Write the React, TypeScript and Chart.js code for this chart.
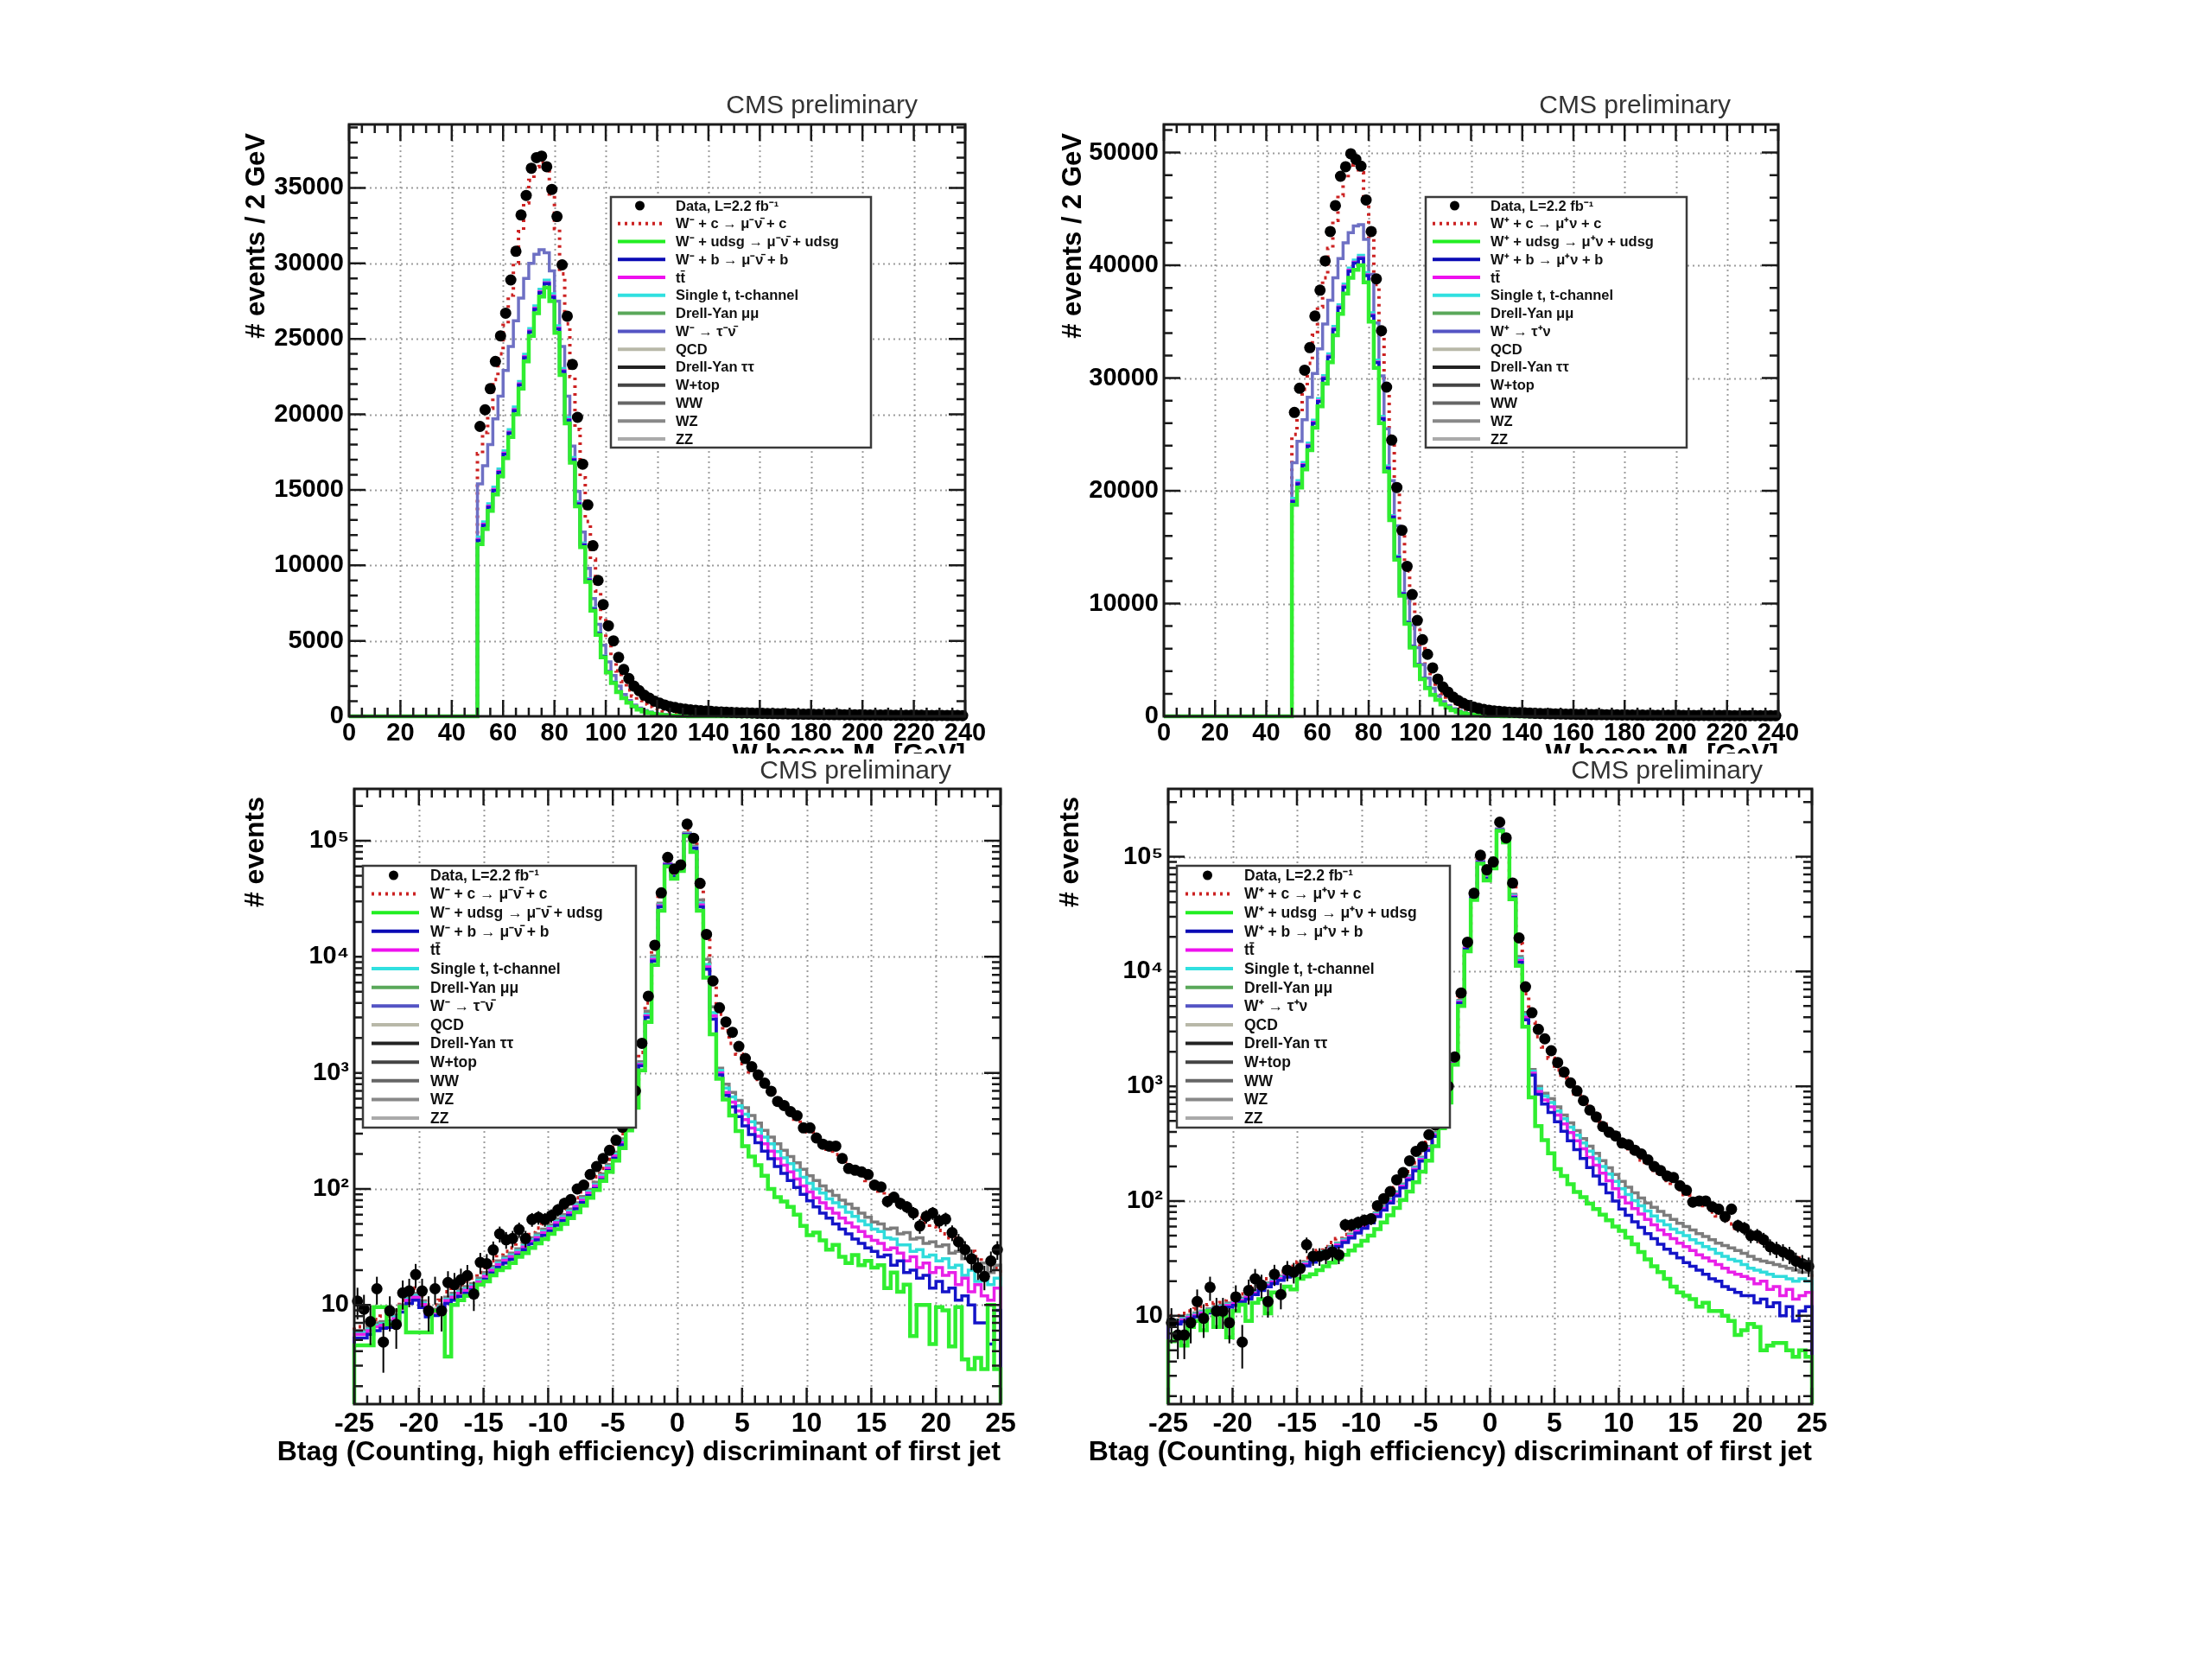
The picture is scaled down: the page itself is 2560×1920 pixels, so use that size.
import React, { useEffect, useRef } from "react";
import { Chart, registerables } from "chart.js";
Chart.register(...registerables);

const FONT = '"Liberation Sans", Arial, Helvetica, sans-serif';

// ---------------- W boson M_T panels (2 GeV bins, first filled bin starts at 50 GeV) ----------------
const MT_X_RANGE = [0, 240];
const MT_FIRST_EDGE = 50;
const MT_BIN_WIDTH = 2;
const MT_X_TICKS = [0, 20, 40, 60, 80, 100, 120, 140, 160, 180, 200, 220, 240];
const TL_Y_TICKS = [0, 5000, 10000, 15000, 20000, 25000, 30000, 35000];
const TR_Y_TICKS = [0, 10000, 20000, 30000, 40000, 50000];

const TL_DATA = [
  19200, 20300, 21700, 23500, 25200, 26700, 28900, 30800, 33200, 34500,
  36300, 37000, 37100, 36400, 34900, 33100, 29900, 26500, 23300, 19800,
  16700, 14000, 11300, 9000, 7400, 6000, 5000, 3900, 3100, 2500,
  2000, 1700, 1400, 1200, 1000, 870, 750, 650, 580, 520,
  470, 430, 400, 370, 345, 325, 305, 290, 275, 260,
  248, 236, 228, 215, 205, 198, 188, 180, 175, 166,
  160, 152, 148, 141, 137, 130, 127, 121, 118, 112,
  110, 105, 102, 98, 95, 92, 88, 86, 83, 80,
  78, 75, 73, 71, 68, 66, 65, 62, 60, 59,
  57, 55, 53, 52, 50,
];
const TL_RED = [17400, 18800, 20400, 22300, 24000, 25900, 27900, 30000, 32100, 34000, 35500, 36400, 36700, 36300, 34600, 32300, 29300, 26000, 22500, 19000, 15800, 12900, 10400, 8300, 6500, 5100, 3900, 3000, 2300, 1750, 1350, 1050, 820, 640, 500, 400, 320, 260, 210, 175, 145];
const TL_GRAY = [15400, 16600, 18000, 19700, 21200, 22900, 24500, 26200, 27700, 29000, 30000, 30600, 30900, 30700, 29500, 27500, 24500, 21200, 17900, 14900, 12200, 9800, 7800, 6100, 4700, 3600, 2700, 2000, 1450, 1050, 750, 540, 390, 280, 200, 145, 105, 75, 55, 40, 30];
const TL_CYAN = [11880, 12880, 14080, 15180, 16380, 17580, 18980, 20480, 22180, 23980, 25680, 27180, 28280, 28880, 27980, 25860, 23030, 19780, 17140, 14200, 11470, 9120, 7180, 5550, 4010, 2990, 2270, 1650, 1240, 928, 660, 465, 331, 233, 166, 114, 81, 56, 40, 28, 20];
const TL_MAGENTA = [11720, 12720, 13920, 15020, 16220, 17420, 18820, 20320, 22020, 23820, 25520, 27020, 28120, 28720, 27820, 25710, 22890, 19650, 17020, 14100, 11380, 9050, 7120, 5500, 3975, 2960, 2250, 1635, 1225, 918, 652, 460, 327, 230, 164, 113, 80, 56, 39, 28, 19];
const TL_BLUE = [11650, 12650, 13850, 14950, 16150, 17350, 18750, 20250, 21950, 23750, 25450, 26950, 28050, 28650, 27750, 25650, 22830, 19600, 16980, 14060, 11340, 9020, 7100, 5480, 3960, 2950, 2240, 1630, 1220, 915, 650, 458, 326, 229, 163, 112, 79, 55, 39, 27, 19];
const TL_GREEN = [11400, 12400, 13600, 14700, 15900, 17100, 18500, 20000, 21700, 23500, 25200, 26700, 27800, 28400, 27500, 25400, 22600, 19400, 16800, 13900, 11200, 8900, 7000, 5400, 3900, 2900, 2200, 1600, 1200, 900, 640, 450, 320, 225, 160, 110, 78, 54, 38, 27, 19];

const TR_DATA = [
  26950, 29100, 30700, 32700, 35500, 37800, 40400, 43000, 45300, 47900,
  48750, 49900, 49400, 48800, 45800, 43000, 38800, 34200, 29200, 24500,
  20300, 16500, 13300, 10800, 8500, 6800, 5500, 4300, 3300, 2600,
  2150, 1700, 1400, 1150, 950, 820, 700, 610, 540, 480,
  440, 400, 370, 345, 320, 300, 282, 265, 250, 237,
  225, 214, 204, 195, 186, 178, 170, 163, 157, 150,
  145, 139, 134, 129, 124, 120, 116, 112, 108, 104,
  101, 98, 95, 92, 89, 87, 84, 82, 80, 78,
  76, 74, 72, 70, 68, 66, 64, 63, 61, 60,
  58, 57, 55, 54, 52,
];
const TR_RED = [25000, 27000, 29000, 31300, 33800, 36300, 38900, 41500, 44000, 46200, 47800, 48900, 49100, 48200, 46000, 42500, 38300, 33800, 29000, 24300, 20000, 16200, 12900, 10100, 7800, 6000, 4600, 3500, 2650, 2000, 1500, 1130, 850, 640, 480, 360, 270, 205, 155, 120, 92];
const TR_GRAY = [22500, 24400, 26300, 28300, 30400, 32600, 34800, 36900, 38900, 40600, 42000, 42900, 43500, 43600, 42300, 39200, 34900, 30200, 25500, 20900, 16900, 13400, 10500, 8100, 6100, 4600, 3400, 2500, 1800, 1300, 940, 680, 490, 350, 250, 180, 130, 92, 66, 47, 34];
const TR_CYAN = [19330, 20900, 22520, 24240, 26270, 28190, 30220, 32150, 34580, 36510, 38340, 39760, 40470, 40880, 39360, 35790, 31600, 26600, 22200, 17800, 14210, 10940, 8390, 6240, 4610, 3380, 2560, 1945, 1480, 1073, 776, 553, 389, 276, 195, 134, 92, 64, 44, 31, 22];
const TR_MAGENTA = [19130, 20700, 22320, 24040, 26070, 27990, 30020, 31950, 34380, 36310, 38140, 39560, 40270, 40680, 39160, 35600, 31430, 26450, 22070, 17700, 14130, 10880, 8340, 6200, 4580, 3360, 2545, 1935, 1473, 1068, 772, 550, 387, 275, 194, 133, 92, 63, 43, 30, 21];
const TR_BLUE = [19050, 20620, 22240, 23960, 25990, 27910, 29940, 31870, 34300, 36230, 38060, 39480, 40190, 40600, 39080, 35520, 31360, 26390, 22020, 17660, 14100, 10860, 8320, 6190, 4570, 3350, 2540, 1930, 1470, 1065, 770, 548, 386, 274, 193, 132, 91, 63, 43, 30, 21];
const TR_GREEN = [18750, 20300, 21900, 23600, 25600, 27500, 29500, 31400, 33800, 35700, 37500, 38900, 39600, 40000, 38500, 35000, 30900, 26000, 21700, 17400, 13900, 10700, 8200, 6100, 4500, 3300, 2500, 1900, 1450, 1050, 760, 540, 380, 270, 190, 130, 90, 62, 42, 30, 21];

// ---------------- Btag discriminant panels (0.5 bins from -25 to 25, log y) ----------------
const BTAG_X_RANGE = [-25, 25];
const BTAG_FIRST_EDGE = -25;
const BTAG_BIN_WIDTH = 0.5;
const BTAG_X_TICKS = [-25, -20, -15, -10, -5, 0, 5, 10, 15, 20, 25];
const BTAG_Y_TICKS = [10, 100, 1000, 10000, 100000];

const BL_DATA = [
  10.8, 9.2, 7.2, 13.8, 4.8, 8.9, 6.8, 12.7, 13.2, 18.3,
  13.2, 8.9, 13.8, 8.9, 15.6, 15, 16.5, 17.9, 12.4, 23.3,
  22.7, 29.8, 41, 36.5, 37.4, 44.6, 37.4, 54.6, 56.8, 54.6,
  59, 66, 75, 81, 100, 108, 133, 156, 183, 215,
  263, 340, 450, 700, 1800, 4580, 12600, 35600, 72000, 57000,
  62000, 139000, 105000, 43000, 15600, 6200, 3640, 2750, 2240, 1690,
  1330, 1130, 960, 816, 695, 568, 524, 464, 428, 336,
  336, 275, 243, 234, 234, 183, 150, 145, 140, 133,
  108, 104, 78, 85, 75, 70, 62, 48, 58, 62,
  53, 55, 42, 35, 30, 25, 21, 17.6, 24, 30,
];
const BL_RED = [
  6.5, 6.5, 7, 7.5, 8, 8, 9, 11, 13, 14,
  12, 10, 10, 11, 13, 14, 15, 16, 17, 19,
  21, 24, 27, 29, 31, 34, 38, 42, 46, 50,
  55, 61, 67, 74, 84, 96, 110, 127, 150, 180,
  230, 300, 420, 650, 1500, 4000, 11500, 33000, 68000, 56000,
  62000, 125000, 100000, 40000, 14500, 5800, 3200, 2300, 1800, 1450,
  1200, 1020, 880, 760, 660, 580, 510, 450, 400, 355,
  310, 275, 245, 220, 198, 178, 160, 145, 130, 118,
  105, 96, 88, 80, 73, 67, 61, 56, 51, 47,
  44, 41, 38, 35, 32, 29, 26, 24, 22, 21,
];
const BL_GRAY = [
  6, 6, 6.5, 7, 7.2, 7.3, 8.2, 10, 11.8, 12.6,
  10.8, 9, 9.2, 10, 11.7, 12.6, 13.5, 14.4, 15.3, 17,
  19, 21.5, 24, 26, 28, 30.5, 34, 38, 41, 45,
  49, 55, 60, 67, 76, 86, 99, 114, 135, 162,
  207, 270, 378, 585, 1250, 3400, 10200, 29000, 64000, 51000,
  58000, 117000, 90000, 31000, 9500, 3700, 1100, 800, 680, 580,
  500, 430, 370, 320, 280, 245, 215, 190, 168, 148,
  130, 118, 106, 96, 88, 80, 74, 68, 62, 57,
  52, 50, 45, 46, 41, 42, 37, 38, 34, 35,
  32, 33, 28, 29, 25, 26, 22, 23, 19, 22,
];
const BL_CYAN = [
  5.8, 5.8, 6.2, 6.7, 6.9, 7, 7.9, 9.6, 11.3, 12.1,
  10.4, 8.7, 8.9, 9.6, 11.2, 12.1, 13, 13.8, 14.7, 16.3,
  18.2, 20.6, 23, 25, 26.9, 29.3, 32.6, 36.5, 39.4, 43.2,
  47, 52.8, 57.6, 64.3, 73, 82.6, 95, 109, 130, 156,
  199, 259, 363, 562, 1200, 3200, 9800, 28000, 63500, 50000,
  57500, 115000, 88000, 29000, 8600, 3300, 1050, 740, 620, 520,
  440, 380, 325, 280, 245, 210, 185, 165, 145, 126,
  112, 100, 92, 82, 76, 70, 63, 58, 53, 49,
  45, 43, 38, 37, 33, 33, 29, 30, 26, 27,
  24, 25, 21, 22, 18, 20, 16, 18, 15, 17,
];
const BL_MAGENTA = [
  5.6, 5.6, 6, 6.5, 6.7, 6.8, 7.6, 9.3, 11, 11.7,
  10.1, 8.4, 8.6, 9.3, 10.9, 11.7, 12.6, 13.4, 14.3, 15.8,
  17.7, 20, 22.3, 24.3, 26.1, 28.4, 31.6, 35.4, 38.2, 41.9,
  45.6, 51.2, 55.9, 62.4, 70.8, 80.1, 92, 106, 126, 151,
  193, 251, 352, 545, 1180, 3100, 9500, 27500, 63000, 49500,
  57000, 114000, 87000, 28000, 8200, 3100, 1000, 680, 560, 470,
  395, 335, 285, 245, 212, 182, 160, 140, 122, 106,
  94, 84, 76, 68, 62, 56, 51, 47, 43, 39,
  36, 34, 30, 31, 28, 24, 26, 21, 23, 19,
  21, 18, 19, 15, 17, 13, 15, 12, 11, 14,
];
const BL_BLUE = [
  5.2, 5.2, 5.6, 6, 6.3, 6.4, 7.1, 8.7, 10.3, 11,
  9.5, 7.9, 8.1, 8.8, 10.3, 11, 11.9, 12.6, 13.5, 14.9,
  16.7, 18.9, 21.1, 23, 24.7, 26.9, 30, 33.6, 36.3, 39.8,
  43.4, 48.7, 53.2, 59.4, 67.5, 76.3, 87.7, 101, 120, 144,
  184, 240, 337, 522, 1150, 3000, 9200, 27000, 62000, 49000,
  56500, 113000, 86000, 27000, 7800, 2900, 960, 640, 510, 420,
  350, 295, 250, 212, 182, 156, 136, 118, 103, 90,
  79, 70, 62, 56, 50, 45, 41, 37, 34, 31,
  29, 26, 27, 22, 24, 19, 20, 17, 18, 14,
  16, 13, 14, 11, 12, 10, 7, 7, 4.6, 9,
];
const BL_GREEN = [
  4.5, 4.5, 4.5, 9.6, 9.6, 6.8, 6.8, 9.6, 5.8, 5.8,
  5.8, 5.8, 8.9, 8.9, 3.6, 10, 11, 12, 13, 15,
  16, 18, 20, 21, 23, 26, 28, 31, 34, 37,
  41, 45, 50, 56, 63, 72, 84, 98, 117, 140,
  175, 225, 320, 500, 1050, 2750, 8500, 25000, 60000, 47000,
  55000, 110000, 80000, 25000, 6600, 2150, 890, 590, 430, 316,
  234, 190, 160, 130, 100, 85, 78, 70, 60, 48,
  40, 42, 36, 30, 33, 26, 23, 27, 22, 24,
  21, 22, 14, 19, 13, 15, 5.4, 10, 10, 4.6,
  9.6, 9, 4.4, 9.6, 3.4, 2.8, 3.5, 2.8, 10, 2.8,
];

const BR_DATA = [
  8.7, 6.8, 6.8, 8.7, 13.3, 9.5, 17.7, 11, 11, 8.7,
  14.6, 5.9, 16.6, 21, 18.5, 13.3, 23, 15.3, 25, 24,
  25.8, 41.6, 33, 33, 34, 36, 34, 62, 62, 65,
  68, 70, 91, 105, 121, 153, 177, 224, 271, 298,
  378, 460, 650, 1000, 1800, 6500, 18000, 48000, 103000, 77000,
  90000, 200000, 146000, 59000, 19600, 7350, 4370, 3130, 2590, 2040,
  1610, 1330, 1070, 910, 750, 620, 540, 446, 398, 369,
  320, 310, 277, 257, 229, 200, 184, 165, 160, 136,
  124, 98, 100, 100, 89, 85, 73, 85, 61, 58,
  50, 50, 46, 40, 38, 36, 34, 30, 28.5, 27,
];
const BR_RED = [
  10, 10, 10.5, 11, 11.5, 12, 12.5, 13, 13.5, 14,
  14.5, 15.5, 16.5, 18, 19.5, 21, 22.5, 24, 25.5, 27,
  29.5, 32, 34.5, 37, 40, 43.5, 47, 51, 56, 62,
  68, 76, 86, 98, 113, 131, 153, 180, 215, 262,
  325, 430, 610, 1000, 1700, 6000, 17500, 47000, 97000, 72000,
  86000, 185000, 142000, 55000, 17500, 6400, 3600, 2700, 2200, 1750,
  1390, 1180, 1000, 860, 740, 640, 560, 490, 425, 370,
  320, 285, 255, 228, 205, 185, 167, 151, 137, 125,
  114, 104, 95, 87, 80, 74, 68, 63, 58, 54,
  50, 47, 44, 41, 38, 36, 34, 32, 30, 28,
];
const BR_GRAY = [
  9.2, 9.2, 9.7, 10.1, 10.6, 11, 11.5, 12, 12.4, 12.9,
  13.3, 14.3, 15.2, 16.6, 17.9, 19.3, 20.7, 22.1, 23.5, 24.8,
  27.1, 29.4, 31.7, 34, 36.8, 40, 43.2, 46.9, 51.5, 57,
  62.6, 69.9, 79.1, 90.2, 104, 120, 141, 166, 198, 241,
  299, 396, 561, 920, 1620, 5600, 16500, 45000, 92000, 67000,
  82000, 175000, 138000, 47000, 13500, 4400, 1400, 1000, 870, 780,
  660, 560, 480, 410, 350, 300, 260, 225, 195, 170,
  148, 132, 118, 106, 96, 88, 81, 75, 69, 64,
  60, 56, 52, 49, 46, 43, 41, 39, 37, 35,
  33, 31, 30, 29, 28, 27, 26, 25, 24, 24,
];
const BR_CYAN = [
  9, 9, 9.4, 9.9, 10.3, 10.8, 11.2, 11.7, 12.1, 12.6,
  13, 13.9, 14.8, 16.2, 17.5, 18.9, 20.2, 21.6, 22.9, 24.3,
  26.5, 28.8, 31, 33.3, 36, 39.1, 42.3, 45.9, 50.4, 55.8,
  61.2, 68.4, 77.4, 88.2, 102, 118, 138, 162, 194, 236,
  293, 387, 549, 900, 1600, 5500, 16200, 44500, 91000, 66000,
  81000, 173000, 137000, 46000, 13000, 4200, 1350, 950, 820, 720,
  610, 520, 440, 375, 320, 272, 234, 200, 172, 148,
  128, 114, 101, 91, 82, 74, 67, 62, 57, 53,
  50, 46, 43, 40, 38, 35, 33, 31, 30, 28,
  26, 25, 24, 23, 22, 22, 21, 20, 21, 20,
];
const BR_MAGENTA = [
  8.8, 8.8, 9.2, 9.7, 10.1, 10.6, 11, 11.4, 11.9, 12.3,
  12.8, 13.6, 14.5, 15.8, 17.2, 18.5, 19.8, 21.1, 22.4, 23.8,
  26, 28.2, 30.4, 32.6, 35.2, 38.3, 41.4, 44.9, 49.3, 54.6,
  59.8, 66.9, 75.7, 86.2, 99.4, 115, 135, 158, 189, 231,
  286, 378, 537, 880, 1580, 5400, 16000, 44000, 90000, 65500,
  80500, 172000, 136000, 45000, 12500, 4000, 1300, 900, 760, 660,
  560, 470, 395, 335, 285, 240, 205, 175, 150, 128,
  108, 96, 86, 77, 69, 62, 56, 51, 47, 43,
  40, 37, 34, 32, 30, 28, 26, 24, 23, 22,
  21, 19, 20, 17, 18, 15, 17, 14, 15, 16,
];
const BR_BLUE = [
  8.5, 8.5, 8.9, 9.4, 9.8, 10.2, 10.6, 11.1, 11.5, 11.9,
  12.3, 13.2, 14, 15.3, 16.6, 17.9, 19.1, 20.4, 21.7, 23,
  25.1, 27.2, 29.3, 31.5, 34, 37, 40, 43.4, 47.6, 52.7,
  57.8, 64.6, 73.1, 83.3, 96, 111, 130, 153, 183, 223,
  276, 366, 519, 850, 1560, 5300, 15600, 43500, 89000, 64500,
  80000, 171000, 135000, 44000, 12000, 3800, 1250, 850, 700, 590,
  490, 405, 335, 280, 235, 196, 165, 140, 118, 100,
  85, 75, 66, 59, 52, 47, 42, 38, 35, 32,
  29, 27, 25, 23, 21, 20, 18, 17, 16, 15,
  15, 13, 14, 12, 13, 10, 12, 9, 11, 12,
];
const BR_GREEN = [
  6, 7, 5.5, 8, 9, 7.5, 11, 8, 10, 6.5,
  11, 12.5, 9, 13, 14, 10.5, 16, 15, 18, 17,
  21, 22, 23, 25, 27, 29, 31, 34, 37, 41,
  45, 50, 57, 65, 75, 87, 102, 121, 146, 180,
  225, 300, 430, 720, 1540, 5000, 15000, 42000, 87000, 62000,
  79000, 168000, 133000, 42500, 11200, 3300, 800, 450, 340, 260,
  190, 165, 140, 120, 108, 95, 85, 76, 68, 60,
  55, 48, 42, 36, 31, 27, 24, 21, 18, 16,
  15, 14, 12, 13, 11, 11, 10, 9, 6.8, 7.5,
  8.5, 8, 5, 5.5, 5.8, 5.8, 5, 4.4, 5, 4.4,
];

// ---------------- legend ----------------
const LEGEND_MINUS = [
  "Data, L=2.2 fb⁻¹",
  "W⁻ + c → μ⁻ν̄ + c",
  "W⁻ + udsg → μ⁻ν̄ + udsg",
  "W⁻ + b → μ⁻ν̄ + b",
  "tt̄",
  "Single t, t-channel",
  "Drell-Yan μμ",
  "W⁻ → τ⁻ν̄",
  "QCD",
  "Drell-Yan ττ",
  "W+top",
  "WW",
  "WZ",
  "ZZ",
];
const LEGEND_PLUS = [
  "Data, L=2.2 fb⁻¹",
  "W⁺ + c → μ⁺ν + c",
  "W⁺ + udsg → μ⁺ν + udsg",
  "W⁺ + b → μ⁺ν + b",
  "tt̄",
  "Single t, t-channel",
  "Drell-Yan μμ",
  "W⁺ → τ⁺ν",
  "QCD",
  "Drell-Yan ττ",
  "W+top",
  "WW",
  "WZ",
  "ZZ",
];
const LEGEND_COLORS = ["#000000", "#cc2222", "#22ee22", "#0a0ab4", "#ee10ee", "#30e0e0", "#5aa85a", "#5454c4", "#b8b8a8", "#222222", "#444444", "#666666", "#888888", "#aaaaaa"];

// stacked histogram outlines, drawn bottom to top: red(total), upper group, cyan, magenta, blue, green
const TOP_LINE_COLORS = ["#cc2222", "#6e70c4", "#30dcdc", "#e820e8", "#1414c8", "#30ee30"];
const BOTTOM_LINE_COLORS = ["#cc2222", "#7c7c7c", "#30dcdc", "#e820e8", "#1414c8", "#30ee30"];
const LINE_WIDTHS = [4, 3.5, 3.5, 3.5, 3.5, 4.5];

const SUP: Record<string, string> = { "0": "⁰", "1": "¹", "2": "²", "3": "³", "4": "⁴", "5": "⁵", "6": "⁶", "7": "⁷", "8": "⁸", "9": "⁹" };

const PANELS = [
  {
    log: false, opaque: false,
    canvas: { left: 230, top: 95, width: 950, height: 805 },
    frame: { left: 404, top: 144, right: 1117, bottom: 829 },
    yMin: 0, yMax: 39200, yTicks: TL_Y_TICKS, yMinor: 1000,
    series: [TL_RED, TL_GRAY, TL_CYAN, TL_MAGENTA, TL_BLUE, TL_GREEN], data: TL_DATA,
    colors: TOP_LINE_COLORS,
    legend: LEGEND_MINUS, legendBox: { left: 707, top: 228, right: 1008, bottom: 518 },
    yTitle: "# events / 2 GeV", xTitle: ["W boson M", "T", " [GeV]"],
    yTitleDx: 107, yTitleDy: 10, xTitleDy: 54, cmsDx: 55, cmsDy: 13, xTickFont: 29, xTickPad: 3, titleFont: 31,
  },
  {
    log: false, opaque: false,
    canvas: { left: 1185, top: 95, width: 940, height: 805 },
    frame: { left: 1347, top: 144, right: 2058, bottom: 829 },
    yMin: 0, yMax: 52500, yTicks: TR_Y_TICKS, yMinor: 2000,
    series: [TR_RED, TR_GRAY, TR_CYAN, TR_MAGENTA, TR_BLUE, TR_GREEN], data: TR_DATA,
    colors: TOP_LINE_COLORS,
    legend: LEGEND_PLUS, legendBox: { left: 1650, top: 228, right: 1952, bottom: 518 },
    yTitle: "# events / 2 GeV", xTitle: ["W boson M", "T", " [GeV]"],
    yTitleDx: 105, yTitleDy: 10, xTitleDy: 54, cmsDx: 55, cmsDy: 13, xTickFont: 29, xTickPad: 3, titleFont: 31,
  },
  {
    log: true, opaque: true,
    canvas: { left: 230, top: 872, width: 960, height: 868 },
    frame: { left: 410, top: 913, right: 1158, bottom: 1625 },
    yMin: 1.4, yMax: 280000, yTicks: BTAG_Y_TICKS, yMinor: 0,
    series: [BL_RED, BL_GRAY, BL_CYAN, BL_MAGENTA, BL_BLUE, BL_GREEN], data: BL_DATA,
    colors: BOTTOM_LINE_COLORS,
    legend: LEGEND_MINUS, legendBox: { left: 420, top: 1002, right: 736, bottom: 1305 },
    yTitle: "# events", xTitle: ["Btag (Counting, high efficiency) discriminant of first jet"],
    yTitleDx: 114, yTitleDy: 9, xTitleDy: 65, cmsDx: 57, cmsDy: 12, xTickFont: 32, xTickPad: 4, titleFont: 32,
  },
  {
    log: true, opaque: true,
    canvas: { left: 1195, top: 872, width: 945, height: 868 },
    frame: { left: 1352, top: 913, right: 2097, bottom: 1625 },
    yMin: 1.7, yMax: 390000, yTicks: BTAG_Y_TICKS, yMinor: 0,
    series: [BR_RED, BR_GRAY, BR_CYAN, BR_MAGENTA, BR_BLUE, BR_GREEN], data: BR_DATA,
    colors: BOTTOM_LINE_COLORS,
    legend: LEGEND_PLUS, legendBox: { left: 1362, top: 1002, right: 1678, bottom: 1305 },
    yTitle: "# events", xTitle: ["Btag (Counting, high efficiency) discriminant of first jet"],
    yTitleDx: 113, yTitleDy: 9, xTitleDy: 65, cmsDx: 57, cmsDy: 12, xTickFont: 32, xTickPad: 4, titleFont: 32,
  },
];

function stepPoints(first: number, width: number, vals: number[], start: number, end: number, base: number) {
  const pts: { x: number; y: number }[] = [{ x: start, y: base }];
  vals.forEach((v, i) => pts.push({ x: first + i * width, y: v }));
  const last = first + vals.length * width;
  pts.push({ x: last, y: vals[vals.length - 1] });
  pts.push({ x: last, y: base });
  if (last < end) pts.push({ x: end, y: base });
  return pts;
}

function logLabel(value: number) {
  const e = Math.log10(value);
  if (Math.abs(e - Math.round(e)) > 1e-6) return "";
  const k = Math.round(e);
  if (k === 0) return "1";
  if (k === 1) return "10";
  return "10" + String(k).split("").map((c) => SUP[c]).join("");
}

function makeChart(canvas: HTMLCanvasElement, p: any) {
  const isLog = p.log;
  const cx = p.canvas.left, cy = p.canvas.top;
  const F = { l: p.frame.left - cx, t: p.frame.top - cy, r: p.frame.right - cx, b: p.frame.bottom - cy };
  const first = isLog ? BTAG_FIRST_EDGE : MT_FIRST_EDGE;
  const bw = isLog ? BTAG_BIN_WIDTH : MT_BIN_WIDTH;
  const xRange = isLog ? BTAG_X_RANGE : MT_X_RANGE;
  const xTicks = isLog ? BTAG_X_TICKS : MT_X_TICKS;
  const xMinor = isLog ? 1 : 5;
  const base = isLog ? p.yMin * 0.5 : 0;

  const datasets: any[] = [
    {
      label: "data",
      data: p.data.map((v: number, i: number) => ({ x: first + bw * (i + 0.5), y: v })),
      showLine: false,
      pointRadius: 6.5,
      pointBackgroundColor: "#000",
      pointBorderColor: "#000",
      pointBorderWidth: 0,
      order: 0,
      clip: false,
    },
  ];
  p.series.forEach((vals: number[], k: number) => {
    datasets.push({
      label: "mc" + k,
      data: stepPoints(first, bw, vals, xRange[0], xRange[1], base),
      borderColor: p.colors[k],
      borderWidth: LINE_WIDTHS[k],
      borderDash: k === 0 ? [3, 6] : [],
      borderCapStyle: "butt",
      borderJoinStyle: "miter",
      pointRadius: 0,
      stepped: true,
      fill: false,
      tension: 0,
      order: 6 - k,
      clip: isLog ? { left: 4, right: 4, top: 0, bottom: 0 } : 4,
    });
  });

  const majorX = xTicks;
  const minorX: number[] = [];
  for (let v = xRange[0]; v <= xRange[1] + 1e-9; v += xMinor) minorX.push(Math.round(v * 1000) / 1000);
  const majorY: number[] = p.yTicks;
  const minorY: number[] = [];
  if (isLog) {
    for (let e = Math.floor(Math.log10(p.yMin)); e <= Math.ceil(Math.log10(p.yMax)); e++) {
      for (let m = 1; m <= 9; m++) {
        const v = m * Math.pow(10, e);
        if (v >= p.yMin && v <= p.yMax) minorY.push(v);
      }
    }
  } else {
    for (let v = p.yMin; v <= p.yMax; v += p.yMinor) minorY.push(v);
  }

  const rootPlugin = {
    id: "rootStyle",
    beforeDatasetsDraw(chart: any) {
      const ctx = chart.ctx, a = chart.chartArea, xs = chart.scales.x, ys = chart.scales.y;
      ctx.save();
      ctx.strokeStyle = "#9c9c9c";
      ctx.lineWidth = 2;
      ctx.setLineDash([2, 4]);
      majorX.forEach((v: number) => {
        if (v <= xRange[0] || v >= xRange[1]) return;
        const px = Math.round(xs.getPixelForValue(v)) + 0.5;
        ctx.beginPath(); ctx.moveTo(px, a.top); ctx.lineTo(px, a.bottom); ctx.stroke();
      });
      majorY.forEach((v: number) => {
        if (v <= p.yMin || v >= p.yMax) return;
        const py = Math.round(ys.getPixelForValue(v)) + 0.5;
        ctx.beginPath(); ctx.moveTo(a.left, py); ctx.lineTo(a.right, py); ctx.stroke();
      });
      ctx.restore();
    },
    beforeDatasetDraw(chart: any, args: any) {
      if (args.index !== 0) return;
      const ctx = chart.ctx, a = chart.chartArea, ys = chart.scales.y;
      ctx.save();
      ctx.beginPath(); ctx.rect(a.left, a.top, a.right - a.left, a.bottom - a.top); ctx.clip();
      ctx.strokeStyle = "#000";
      ctx.lineWidth = 2;
      args.meta.data.forEach((el: any, i: number) => {
        const v = p.data[i];
        const e = Math.sqrt(v);
        const lo = Math.max(v - e, base);
        ctx.beginPath();
        ctx.moveTo(el.x, ys.getPixelForValue(v + e));
        ctx.lineTo(el.x, ys.getPixelForValue(lo));
        ctx.stroke();
      });
      ctx.restore();
    },
    afterDatasetsDraw(chart: any) {
      const ctx = chart.ctx, a = chart.chartArea, xs = chart.scales.x, ys = chart.scales.y;
      ctx.save();
      ctx.strokeStyle = "#1a1a1a";
      ctx.lineWidth = 2.5;
      const isMajX = (v: number) => majorX.some((m: number) => Math.abs(m - v) < 1e-6);
      minorX.forEach((v) => {
        const len = isMajX(v) ? 19 : 10;
        const px = xs.getPixelForValue(v);
        ctx.beginPath();
        ctx.moveTo(px, a.bottom); ctx.lineTo(px, a.bottom - len);
        ctx.moveTo(px, a.top); ctx.lineTo(px, a.top + len);
        ctx.stroke();
      });
      minorY.forEach((v) => {
        const maj = majorY.some((m: number) => Math.abs(m - v) < 1e-6 * Math.max(1, m));
        const len = maj ? 19 : 10;
        const py = ys.getPixelForValue(v);
        ctx.beginPath();
        ctx.moveTo(a.left, py); ctx.lineTo(a.left + len, py);
        ctx.moveTo(a.right, py); ctx.lineTo(a.right - len, py);
        ctx.stroke();
      });
      ctx.lineWidth = 3;
      ctx.strokeRect(a.left, a.top, a.right - a.left, a.bottom - a.top);
      ctx.restore();
    },
    afterDraw(chart: any) {
      const ctx = chart.ctx, a = chart.chartArea;
      // legend box
      const lb = { l: p.legendBox.left - cx, t: p.legendBox.top - cy, r: p.legendBox.right - cx, b: p.legendBox.bottom - cy };
      ctx.save();
      ctx.fillStyle = "#fff";
      ctx.fillRect(lb.l, lb.t, lb.r - lb.l, lb.b - lb.t);
      ctx.strokeStyle = "#3a3a3a";
      ctx.lineWidth = 2.5;
      ctx.strokeRect(lb.l, lb.t, lb.r - lb.l, lb.b - lb.t);
      const n = p.legend.length;
      const pad = isLog ? 11 : 10;
      const rowH = (lb.b - lb.t - 2 * pad) / (n - 1);
      const x1 = lb.l + (isLog ? 10 : 8), x2 = lb.l + (isLog ? 65 : 63), tx = lb.l + (isLog ? 78 : 75);
      ctx.font = `bold ${isLog ? 17.5 : 16.5}px ${FONT}`;
      ctx.textBaseline = "middle";
      ctx.textAlign = "left";
      for (let i = 0; i < n; i++) {
        const y = lb.t + pad + i * rowH;
        if (i === 0) {
          ctx.fillStyle = "#000";
          ctx.beginPath(); ctx.arc((x1 + x2) / 2 - 2, y, 5.5, 0, Math.PI * 2); ctx.fill();
        } else {
          ctx.strokeStyle = LEGEND_COLORS[i];
          ctx.lineWidth = 4;
          ctx.setLineDash(i === 1 ? [3, 5] : []);
          ctx.beginPath(); ctx.moveTo(x1, y); ctx.lineTo(x2, y); ctx.stroke();
          ctx.setLineDash([]);
        }
        ctx.fillStyle = "#111";
        ctx.fillText(p.legend[i], tx, y + 1);
      }
      // CMS preliminary
      ctx.font = `30px ${FONT}`;
      ctx.fillStyle = "#333";
      ctx.textAlign = "right";
      ctx.textBaseline = "alphabetic";
      ctx.fillText("CMS preliminary", a.right - p.cmsDx, a.top - p.cmsDy);
      // x axis title (optional subscript as second part)
      const big = `bold ${p.titleFont}px ${FONT}`;
      const small = `bold ${Math.round(p.titleFont * 0.68)}px ${FONT}`;
      ctx.fillStyle = "#000";
      ctx.textAlign = "left";
      const parts: string[] = p.xTitle;
      const fonts = parts.map((_, i) => (i === 1 ? small : big));
      const widths = parts.map((t, i) => { ctx.font = fonts[i]; return ctx.measureText(t).width; });
      let xx = a.right - widths.reduce((s, w) => s + w, 0);
      const by = a.bottom + p.xTitleDy;
      parts.forEach((t, i) => {
        ctx.font = fonts[i];
        ctx.fillText(t, xx, i === 1 ? by + 6 : by);
        xx += widths[i];
      });
      // y axis title
      ctx.font = big;
      ctx.save();
      ctx.translate(a.left - p.yTitleDx, a.top + p.yTitleDy);
      ctx.rotate(-Math.PI / 2);
      ctx.textAlign = "right";
      ctx.textBaseline = "middle";
      ctx.fillText(p.yTitle, 0, 0);
      ctx.restore();
      ctx.restore();
    },
  };

  return new Chart(canvas, {
    type: "line",
    data: { datasets },
    options: {
      animation: false,
      responsive: false,
      events: [],
      layout: { padding: { top: F.t, right: p.canvas.width - F.r, left: 0, bottom: 0 } },
      plugins: { legend: { display: false }, tooltip: { enabled: false }, title: { display: false } },
      scales: {
        x: {
          type: "linear",
          min: xRange[0],
          max: xRange[1],
          afterBuildTicks: (s: any) => { s.ticks = xTicks.map((v: number) => ({ value: v })); },
          afterFit: (s: any) => { s.height = p.canvas.height - F.b; },
          grid: { display: false, drawTicks: false },
          border: { display: false },
          ticks: {
            autoSkip: false, maxRotation: 0, minRotation: 0, padding: p.xTickPad, color: "#000",
            font: { family: FONT, size: p.xTickFont, weight: "bold" },
            callback: (v: any) => String(v),
          },
        },
        y: {
          type: isLog ? "logarithmic" : "linear",
          min: p.yMin,
          max: p.yMax,
          afterBuildTicks: (s: any) => { s.ticks = p.yTicks.map((v: number) => ({ value: v })); },
          afterFit: (s: any) => { s.width = F.l; },
          grid: { display: false, drawTicks: false },
          border: { display: false },
          ticks: {
            autoSkip: false, padding: 6, color: "#000",
            font: { family: FONT, size: 29, weight: "bold" },
            callback: (v: any) => (isLog ? logLabel(Number(v)) : String(v)),
          },
        },
      },
    },
    plugins: [rootPlugin],
  } as any);
}

function PanelCanvas({ p }: { p: any }) {
  const ref = useRef<HTMLCanvasElement>(null);
  useEffect(() => {
    if (!ref.current) return;
    const chart = makeChart(ref.current, p);
    return () => chart.destroy();
  }, [p]);
  return (
    <canvas
      ref={ref}
      width={p.canvas.width}
      height={p.canvas.height}
      style={{
        position: "absolute",
        left: p.canvas.left,
        top: p.canvas.top,
        width: p.canvas.width,
        height: p.canvas.height,
        background: p.opaque ? "#fff" : "transparent",
      }}
    />
  );
}

export default function App() {
  return (
    <div style={{ position: "absolute", left: 0, top: 0, width: 2560, height: 1920, background: "#fff", overflow: "hidden" }}>
      {PANELS.map((p, i) => (
        <PanelCanvas key={i} p={p} />
      ))}
    </div>
  );
}
